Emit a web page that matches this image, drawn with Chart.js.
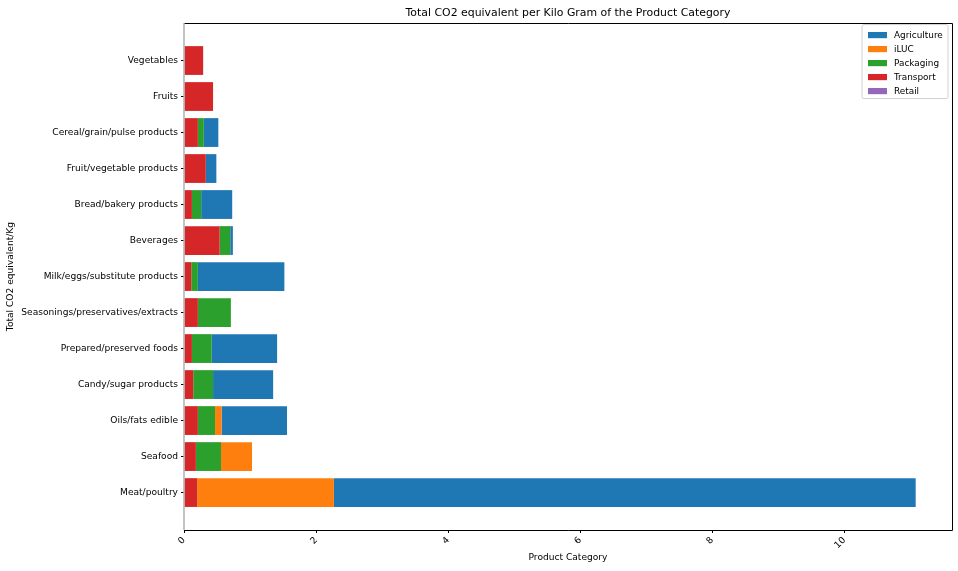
<!DOCTYPE html>
<html>
<head>
<meta charset="utf-8">
<script src="https://cdn.jsdelivr.net/npm/chart.js@4"></script>
<style>
  html, body { margin: 0; padding: 0; background: #ffffff; }
  #wrap { width: 958px; height: 571px; position: relative; }
</style>
</head>
<body>
<div id="wrap"><canvas id="c" width="958" height="571"></canvas></div>
<script>
// Categories, bottom (index 0) to top
const categories = [
  "Meat/poultry",
  "Seafood",
  "Oils/fats edible",
  "Candy/sugar products",
  "Prepared/preserved foods",
  "Seasonings/preservatives/extracts",
  "Milk/eggs/substitute products",
  "Beverages",
  "Bread/bakery products",
  "Fruit/vegetable products",
  "Cereal/grain/pulse products",
  "Fruits",
  "Vegetables"
];
// Segment values (kg CO2e per kg), same order as categories
const transport   = [0.20, 0.18, 0.21, 0.14, 0.12, 0.21, 0.11, 0.54, 0.12, 0.33, 0.21, 0.44, 0.29];
const packaging   = [0.00, 0.38, 0.26, 0.30, 0.30, 0.50, 0.10, 0.16, 0.14, 0.00, 0.09, 0.00, 0.00];
const iluc        = [2.07, 0.47, 0.10, 0.00, 0.00, 0.00, 0.00, 0.00, 0.00, 0.00, 0.00, 0.00, 0.00];
const agriculture = [8.81, 0.00, 0.99, 0.91, 0.99, 0.00, 1.31, 0.04, 0.47, 0.16, 0.22, 0.00, 0.00];
const retail      = [0, 0, 0, 0, 0, 0, 0, 0, 0, 0, 0, 0, 0];
const xTicks = [0, 2, 4, 6, 8, 10];

const FONT = "'DejaVu Sans', sans-serif";
const FS = 9.1;

function pts(arr) { return arr.map((v, i) => ({ x: v, y: i })); }

const legendPlugin = {
  id: 'innerLegend',
  afterDraw(chart) {
    const ctx = chart.ctx;
    const ca = chart.chartArea;
    const w = 86, h = 74;
    const x0 = ca.right - 4 - w, y0 = ca.top + 1.5;
    ctx.save();
    const r = 2;
    ctx.beginPath();
    ctx.moveTo(x0 + r, y0);
    ctx.lineTo(x0 + w - r, y0);
    ctx.quadraticCurveTo(x0 + w, y0, x0 + w, y0 + r);
    ctx.lineTo(x0 + w, y0 + h - r);
    ctx.quadraticCurveTo(x0 + w, y0 + h, x0 + w - r, y0 + h);
    ctx.lineTo(x0 + r, y0 + h);
    ctx.quadraticCurveTo(x0, y0 + h, x0, y0 + h - r);
    ctx.lineTo(x0, y0 + r);
    ctx.quadraticCurveTo(x0, y0, x0 + r, y0);
    ctx.closePath();
    ctx.fillStyle = 'rgba(255,255,255,0.8)';
    ctx.fill();
    ctx.strokeStyle = '#d0d0d0';
    ctx.lineWidth = 1;
    ctx.stroke();
    ctx.font = '8.9px ' + FONT;
    ctx.textBaseline = 'middle';
    ctx.textAlign = 'left';
    chart.data.datasets.forEach((ds, i) => {
      const yc = y0 + 10.5 + i * 14;
      ctx.fillStyle = ds.backgroundColor;
      ctx.fillRect(x0 + 6, yc - 3.1, 19, 6.2);
      ctx.fillStyle = '#000000';
      ctx.fillText(ds.label, x0 + 32, yc + 0.5);
    });
    ctx.restore();
  }
};

const framePlugin = {
  id: 'frame',
  afterDraw(chart) {
    const ctx = chart.ctx;
    const ca = chart.chartArea;
    ctx.save();
    ctx.lineWidth = 1;
    ctx.strokeStyle = '#000000';
    ctx.beginPath();
    ctx.moveTo(ca.left, Math.round(ca.top) + 0.5);
    ctx.lineTo(Math.round(ca.right) + 0.5, Math.round(ca.top) + 0.5);
    ctx.lineTo(Math.round(ca.right) + 0.5, Math.round(ca.bottom) + 0.5);
    ctx.lineTo(ca.left, Math.round(ca.bottom) + 0.5);
    ctx.stroke();
    ctx.strokeStyle = '#b0b0b0';
    ctx.lineWidth = 1.5;
    ctx.beginPath();
    ctx.moveTo(Math.round(ca.left), ca.top);
    ctx.lineTo(Math.round(ca.left), ca.bottom);
    ctx.stroke();
    ctx.restore();
  }
};

new Chart(document.getElementById('c'), {
  type: 'bar',
  data: {
    datasets: [
      { label: 'Agriculture', data: pts(agriculture), backgroundColor: '#1f77b4', order: 3 },
      { label: 'iLUC',        data: pts(iluc),        backgroundColor: '#ff7f0e', order: 2 },
      { label: 'Packaging',   data: pts(packaging),   backgroundColor: '#2ca02c', order: 1 },
      { label: 'Transport',   data: pts(transport),   backgroundColor: '#d62728', order: 0 },
      { label: 'Retail',      data: pts(retail),      backgroundColor: '#9467bd', order: 4 }
    ]
  },
  options: {
    indexAxis: 'y',
    responsive: false,
    animation: false,
    devicePixelRatio: 1,
    datasets: { bar: { barPercentage: 0.8, categoryPercentage: 1.0, borderWidth: 0 } },
    layout: { padding: { left: 0, right: 6, top: 0, bottom: 0 } },
    plugins: {
      legend: { display: false },
      tooltip: { enabled: false },
      title: {
        display: true,
        fullSize: false,
        text: 'Total CO2 equivalent per Kilo Gram of the Product Category',
        color: '#000000',
        font: { family: FONT, size: 10.9, weight: 'normal', lineHeight: 1.2 },
        padding: { top: 7, bottom: 3 }
      }
    },
    scales: {
      x: {
        type: 'linear',
        stacked: true,
        min: 0,
        max: 11.63,
        afterBuildTicks: s => { s.ticks = xTicks.map(v => ({ value: v })); },
        afterFit: s => { s.height = 41; },
        border: { display: false },
        grid: { drawOnChartArea: false, drawTicks: true, tickLength: 3, tickColor: '#000000' },
        ticks: {
          color: '#000000',
          font: { family: FONT, size: FS },
          minRotation: 45,
          maxRotation: 45,
          padding: 2,
          autoSkip: false,
          callback: v => String(v)
        },
        title: {
          display: true,
          text: 'Product Category',
          color: '#000000',
          font: { family: FONT, size: FS },
          padding: { top: 0, bottom: 8 }
        }
      },
      y: {
        type: 'linear',
        stacked: true,
        offset: false,
        min: -1.04,
        max: 13.04,
        afterBuildTicks: s => { s.ticks = categories.map((c, i) => ({ value: i })); },
        afterFit: s => { s.width = 184; },
        border: { display: false },
        grid: { offset: false, drawOnChartArea: false, drawTicks: true, tickLength: 3, tickColor: '#000000' },
        ticks: {
          color: '#000000',
          font: { family: FONT, size: FS },
          padding: 3,
          autoSkip: false,
          callback: v => categories[v]
        },
        title: {
          display: true,
          text: 'Total CO2 equivalent/Kg',
          color: '#000000',
          font: { family: FONT, size: FS },
          padding: { top: 5, bottom: 4 }
        }
      }
    }
  },
  plugins: [legendPlugin, framePlugin]
});
</script>
</body>
</html>
